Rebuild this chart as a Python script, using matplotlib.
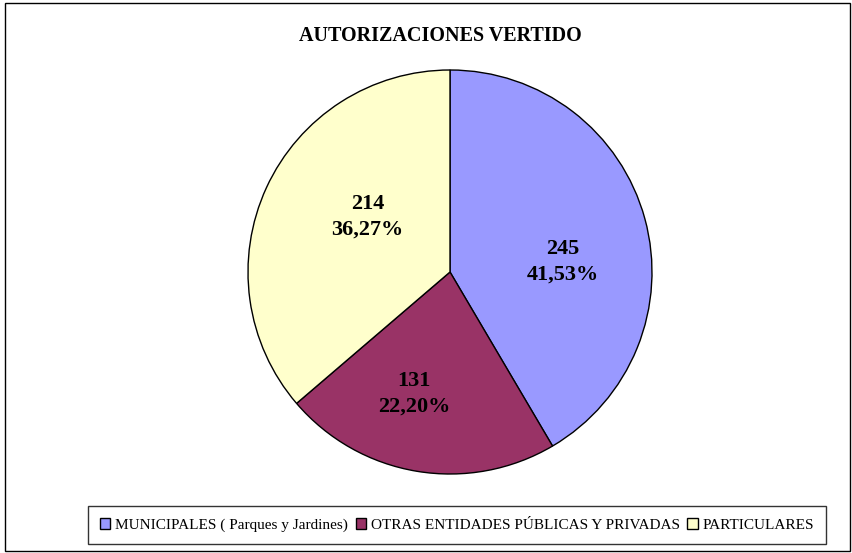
import numpy as np
import matplotlib.pyplot as plt
from matplotlib.patches import Rectangle

categories = ['MUNICIPALES ( Parques y Jardines)',
              'OTRAS ENTIDADES PÚBLICAS Y PRIVADAS',
              'PARTICULARES']
values = [245, 131, 214]
percent_labels = ['41,53%', '22,20%', '36,27%']
colors = ['#9999FF', '#993366', '#FFFFCC']

plt.rcParams['font.family'] = ['Liberation Serif', 'DejaVu Serif']

fig = plt.figure(figsize=(8.52, 5.53), dpi=100)
fig.patches.append(Rectangle((5 / 852, 2 / 553), 845 / 852, 548 / 553,
                             transform=fig.transFigure, fill=False,
                             edgecolor='black', linewidth=1))

# pie area: centre ~ (450, 272), radius ~ 202 px
ax = fig.add_axes([(450 - 202) / 852, 1 - (272 + 202) / 553, 404 / 852, 404 / 553])
wedges = ax.pie(values, colors=colors, startangle=90, counterclock=False,
                wedgeprops=dict(edgecolor='black', linewidth=1))[0]

# label placement (distance from centre, angle shift vs. wedge middle)
dist = [0.56, 0.63, 0.49]
shift = [-10, -7, -9]
total = sum(values)
ang = 90
for i, v in enumerate(values):
    span = 360 * v / total
    mid = np.deg2rad(ang - span / 2 + shift[i])
    ang -= span
    ax.text(dist[i] * np.cos(mid), dist[i] * np.sin(mid),
            f'{values[i]}\n{percent_labels[i]}', ha='center', va='center',
            fontsize=16, fontweight='bold', linespacing=1.4)
ax.set_xlim(-1, 1)
ax.set_ylim(-1, 1)
ax.set_aspect('equal')

fig.text(440 / 852, 1 - 36 / 553, 'AUTORIZACIONES VERTIDO', ha='center', va='center',
         fontsize=14.5, fontweight='bold')

leg = fig.legend(wedges, categories, loc='center', bbox_to_anchor=(457 / 852, 1 - 525 / 553),
                 ncol=3, frameon=True, fancybox=False, edgecolor='black',
                 fontsize=11, handlelength=0.7, handleheight=0.7, handletextpad=0.3,
                 columnspacing=0.5, borderpad=0.8)
leg.get_frame().set_linewidth(1)

fig.savefig('out.png', dpi=100)
